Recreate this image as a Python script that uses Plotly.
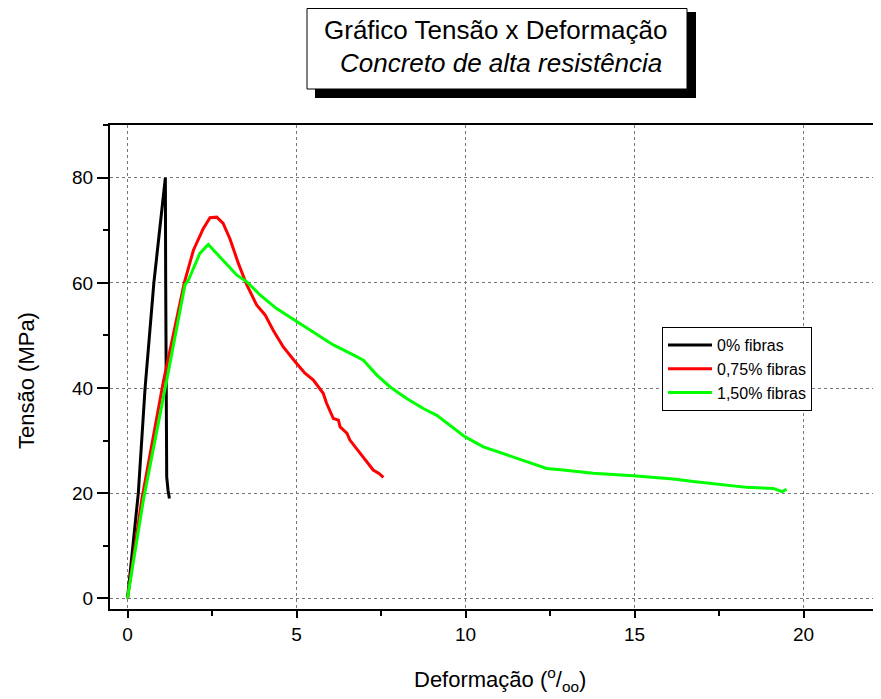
import plotly.graph_objects as go

# ---- data (deformation in per-mil, stress in MPa) ----
x_0 = [0.0, 0.12, 0.32, 0.52, 0.78, 0.95, 1.12, 1.13, 1.14, 1.16, 1.2, 1.24]
y_0 = [0.0, 7.3, 20.0, 40.0, 60.0, 70.0, 80.0, 60.0, 40.0, 23.1, 20.5, 19.0]

x_075 = [0.0, 0.42, 1.06, 1.36, 1.68, 1.95, 2.24, 2.44, 2.64, 2.83, 3.03, 3.28, 3.53,
         3.82, 4.07, 4.31, 4.61, 4.96, 5.25, 5.50, 5.70, 5.79, 5.89, 5.99, 6.09, 6.24,
         6.29, 6.49, 6.58, 6.88, 7.27, 7.45, 7.57]
y_075 = [0.0, 18.7, 41.2, 50.4, 60.0, 66.2, 70.3, 72.4, 72.5, 71.3, 68.4, 63.7, 59.6,
         55.8, 53.9, 51.0, 47.8, 45.0, 42.8, 41.5, 39.6, 39.0, 37.1, 35.8, 34.2, 33.9,
         32.6, 31.4, 30.1, 27.6, 24.4, 23.7, 23.0]

x_150 = [0.0, 0.47, 1.16, 1.70, 1.80, 2.14, 2.39, 2.59, 2.93, 3.23, 3.53, 3.92, 4.41,
         5.01, 5.50, 6.09, 6.68, 6.98, 7.37, 7.77, 8.26, 8.75, 9.15, 9.54, 9.99, 10.53,
         11.41, 11.91, 12.40, 12.89, 13.78, 14.96, 16.15, 16.74, 17.73, 18.32, 19.11,
         19.36, 19.50]
y_150 = [0.0, 18.7, 41.5, 59.6, 60.5, 65.6, 67.3, 65.9, 63.4, 61.5, 60.2, 57.7, 55.1,
         52.6, 50.7, 48.2, 46.3, 45.3, 42.5, 40.2, 38.0, 36.1, 34.8, 32.9, 30.7, 28.8,
         26.9, 25.7, 24.7, 24.4, 23.8, 23.3, 22.7, 22.2, 21.5, 21.1, 20.9, 20.3, 20.7]

series_names = ["0% fibras", "0,75% fibras", "1,50% fibras"]
series_colors = ["#000000", "#FF0000", "#00FF00"]

x_ticks = [0, 5, 10, 15, 20]
y_ticks = [0, 20, 40, 60, 80]

title_line1 = "Gráfico Tensão x Deformação"
title_line2 = "Concreto de alta resistência"
x_title = "Deformação (<sup>o</sup>/<sub>oo</sub>)"
y_title = "Tensão (MPa)"

# ---- layout geometry (screen pixels; page body has an 8px margin) ----
OFF = 8
W, H = 881 - OFF, 699 - OFF
L, R, T, B = 110, 881, 125, 609   # plot area on screen


def px(x):
    return (x - L) / (R - L)


def py(y):
    return (B - y) / (B - T)


FONT = "Liberation Sans, Arial, sans-serif"

fig = go.Figure()
for xs, ys, name, color in zip([x_0, x_075, x_150], [y_0, y_075, y_150],
                               series_names, series_colors):
    fig.add_trace(go.Scatter(x=xs, y=ys, mode="lines", name=name,
                             line=dict(color=color, width=3)))

axis_common = dict(
    showline=True, linecolor="black", linewidth=2,
    ticks="outside", tickcolor="black", tickwidth=2,
    showgrid=True, gridcolor="#777777", gridwidth=1, griddash="dot",
    zeroline=False,
    tickfont=dict(family=FONT, size=19, color="black"),
)

fig.update_layout(
    width=W, height=H,
    margin=dict(l=L - OFF, r=W - (R - OFF), t=T - OFF, b=H - (B - OFF), pad=0),
    paper_bgcolor="white", plot_bgcolor="white",
    showlegend=True,
    legend=dict(
        x=px(662), y=py(327), xanchor="left", yanchor="top",
        bgcolor="white", bordercolor="black", borderwidth=1,
        font=dict(family=FONT, size=16, color="black"),
        tracegroupgap=0, itemwidth=44,
    ),
    xaxis=dict(
        range=[(L - 127.5) / 33.8, (R - 127.5) / 33.8],
        tickvals=x_ticks, ticklen=7, mirror=True,
        minor=dict(dtick=2.5, tick0=0, ticks="outside", ticklen=5,
                   tickcolor="black", tickwidth=2, showgrid=False),
        **axis_common,
    ),
    yaxis=dict(
        range=[(598.3 - B) / 5.2575, (598.3 - T) / 5.2575],
        tickvals=y_ticks, ticklen=11,
        minor=dict(dtick=10, tick0=0, ticks="outside", ticklen=5,
                   tickcolor="black", tickwidth=2, showgrid=False),
        **axis_common,
    ),
)

# title box with drop shadow
fig.add_shape(type="rect", xref="paper", yref="paper",
              x0=px(315), x1=px(696), y0=py(98), y1=py(12),
              fillcolor="black", line=dict(width=0), layer="above")
fig.add_shape(type="rect", xref="paper", yref="paper",
              x0=px(307), x1=px(687), y0=py(89), y1=py(8.5),
              fillcolor="white", line=dict(color="black", width=1), layer="above")

fig.add_annotation(xref="paper", yref="paper", x=px(495), y=py(30),
                   text=title_line1, showarrow=False, xanchor="center", yanchor="middle",
                   font=dict(family=FONT, size=26, color="black"))
fig.add_annotation(xref="paper", yref="paper", x=px(501), y=py(63),
                   text="<i>" + title_line2 + "</i>", showarrow=False,
                   xanchor="center", yanchor="middle",
                   font=dict(family=FONT, size=26, color="black"))

# axis titles
fig.add_annotation(xref="paper", yref="paper", x=px(500), y=py(679),
                   text=x_title, showarrow=False, xanchor="center", yanchor="middle",
                   font=dict(family=FONT, size=22, color="black"))
fig.add_annotation(xref="paper", yref="paper", x=px(26), y=py(381),
                   text=y_title, showarrow=False, textangle=-90,
                   xanchor="center", yanchor="middle",
                   font=dict(family=FONT, size=22, color="black"))

fig.write_html("out.html")
